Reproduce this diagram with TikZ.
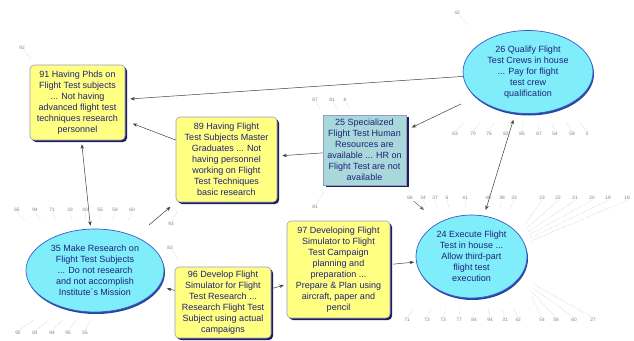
\documentclass[tikz,border=0pt]{standalone}
\usepackage{fontspec}
\setmainfont{Liberation Sans}
\usetikzlibrary{shapes.geometric,shadows,arrows.meta}
\definecolor{boxyellow}{HTML}{FFFF82}
\definecolor{boxedge}{HTML}{9A9AC8}
\definecolor{navyshadow}{HTML}{1E1E5A}
\definecolor{navytext}{HTML}{20207A}
\definecolor{ellfill}{HTML}{80EEFA}
\definecolor{elledge}{HTML}{3A5AC8}
\definecolor{ellshadow}{HTML}{2848A0}
\definecolor{tealfill}{HTML}{A8D8DA}
\begin{document}
\begin{tikzpicture}[x=1pt,y=-1pt,
  txt/.style={font=\fontsize{9}{11}\selectfont, text=navytext, align=center, inner sep=0pt},
  ybox/.style={txt, rectangle, rounded corners=4pt, draw=boxedge, line width=0.6pt, fill=boxyellow,
    drop shadow={shadow xshift=2pt, shadow yshift=-2pt, fill=navyshadow, opacity=1}},
  tbox/.style={txt, rectangle, draw=boxedge, line width=0.6pt, fill=tealfill,
    drop shadow={shadow xshift=3pt, shadow yshift=-1.5pt, fill=navyshadow, opacity=1}},
  ell/.style={txt, ellipse, draw=elledge, line width=0.7pt, fill=ellfill,
    drop shadow={shadow xshift=1pt, shadow yshift=-2pt, fill=ellshadow, opacity=1}},
  edge/.style={draw=black!75, line width=0.5pt, -{Stealth[length=4.5pt,width=3.5pt]}},
  bedge/.style={draw=black!75, line width=0.5pt, {Stealth[length=4.5pt,width=3.5pt]}-{Stealth[length=4.5pt,width=3.5pt]}},
  lab/.style={font=\fontsize{4.8}{5}\selectfont, text=black!50, inner sep=0.5pt},
  stub/.style={draw=black!40, densely dotted, line width=0.3pt}]
\useasboundingbox[fill=white] (0,0) rectangle (634,340);

% main nodes
\node[ybox, minimum width=95pt, minimum height=75pt] (n91) at (77.5,102.5)
  {91 Having Phds on\\Flight Test subjects\\... Not having\\advanced flight test\\techniques research\\personnel};
\node[ybox, minimum width=101pt, minimum height=85pt] (n89) at (226.5,159.5)
  {89 Having Flight\\Test Subjects Master\\Graduates ... Not\\having personnel\\working on Flight\\Test Techniques\\basic research};
\node[tbox, minimum width=83pt, minimum height=70pt] (n25) at (364.5,150)
  {25 Specialized\\Flight Test Human\\Resources are\\available ... HR on\\Flight Test are not\\available};
\node[ell, minimum width=130pt, minimum height=83pt] (n26) at (528,72)
  {26 Qualify Flight\\Test Crews in house\\... Pay for flight\\test crew\\qualification};
\node[ell, minimum width=138pt, minimum height=83pt] (n35) at (95,270.5)
  {35 Make Research on\\Flight Test Subjects\\... Do not research\\and not accomplish\\Institute´s Mission};
\node[ybox, minimum width=96pt, minimum height=71pt] (n96) at (223,302.5)
  {96 Develop Flight\\Simulator for Flight\\Test Research ...\\Research Flight Test\\Subject using actual\\campaigns};
\node[ybox, minimum width=103pt, minimum height=97pt] (n97) at (338.5,269.5)
  {97 Developing Flight\\Simulator to Flight\\Test Campaign\\planning and\\preparation ...\\Prepare \& Plan using\\aircraft, paper and\\pencil};
\node[ell, minimum width=111pt, minimum height=83pt] (n24) at (471.5,256.5)
  {24 Execute Flight\\Test in house ...\\Allow third-part\\flight test\\execution};

% connectors
\draw[edge, shorten >=5pt] (n26) -- (n91);
\draw[edge, shorten <=16pt, shorten >=6pt] (n26) -- (n25);
\draw[edge, shorten >=5pt] (n25) -- (n89);
\draw[edge, shorten >=8pt] (n89) -- (n91);
\draw[bedge, shorten <=3pt, shorten >=4pt] (n35) -- (n91);
\draw[edge, shorten <=18pt, shorten >=7pt] (n35) -- (n89);
\draw[edge, shorten >=8pt] (n96) -- (n35);
\draw[edge, shorten >=3pt] (n96) -- (n97);
\draw[edge, shorten <=3pt, shorten >=2pt] (n97) -- (n24);
\draw[bedge, shorten <=6pt, shorten >=7pt] (n24) -- (n26);

% small labels with stubs
\node[lab] (a92) at (22,48) {92};
\draw[stub] (a92) -- ++(9,11);
\node[lab] (a42) at (457,13) {42};
\draw[stub] (a42) -- ++(12,12);

\foreach \t/\x in {87/315,81/332,8/345}
  {\node[lab] (b\t) at (\x,100) {\t}; \draw[stub] (b\t) -- ++(5,9);}

\foreach \t/\x [count=\i] in {63/455,70/473,76/489,82/506,85/522,87/539,54/555,59/572,3/587}
  {\node[lab] (c\i) at (\x,134) {\t};
   \draw[stub] (c\i.north) -- ++({(528-\x)*0.12},-9);}

\node[lab] (d81) at (315,207) {81};
\draw[stub] (d81) -- ++(9,-15);

\foreach \t/\x [count=\i] in {65/17,94/35,71/52,33/70,40/85,55/100,58/115,60/132}
  {\node[lab] (e\i) at (\x,210) {\t};
   \draw[stub] (e\i.south) -- ++({(95-\x)*0.1},8);}

\foreach \t/\x [count=\i] in {92/18,83/35,94/52,95/68,55/85}
  {\node[lab] (f\i) at (\x,333) {\t};
   \draw[stub] (f\i.north) -- ++({(95-\x)*0.15+4},-10);}

\node[lab] (g93) at (171,224) {93};
\draw[stub] (g93) -- ++(7,-14);
\node[lab] (g83) at (170,248) {83};
\draw[stub] (g83) -- ++(9,13);

\foreach \t/\x [count=\i] in {34/423,37/435,6/447,41/465,40/488,38/502,33/514}
  {\node[lab] (h\i) at (\x,198) {\t};
   \draw[stub] (h\i.south) -- ++({(471-\x)*0.08},7);}
\node[lab] (h66) at (410,198) {66};
\draw[edge, draw=black!60, shorten <=1pt] (h66) -- ++(14,12);

\foreach \t/\x/\ex/\ey [count=\i] in {23/542/524/226,22/558/526/229,21/575/528/232,20/592/529/235,19/608/530/238,18/627/531/241}
  {\node[lab] (k\i) at (\x,198) {\t};
   \draw[stub] (k\i.south) -- (\ex,\ey);}

\foreach \t/\x [count=\i] in {71/407,72/427,73/443,77/459,84/474,94/490,31/505,42/518}
  {\node[lab] (m\i) at (\x,320) {\t};
   \draw[stub] (m\i.north) -- ++({(471-\x)*0.1},-9);}

\foreach \t/\x/\ex/\ey [count=\i] in {54/542/532/297,58/556/532/292,60/574/533/288,27/593/533/284}
  {\node[lab] (p\i) at (\x,320) {\t};
   \draw[stub] (p\i.north) -- (\ex,\ey);}
\end{tikzpicture}
\end{document}
